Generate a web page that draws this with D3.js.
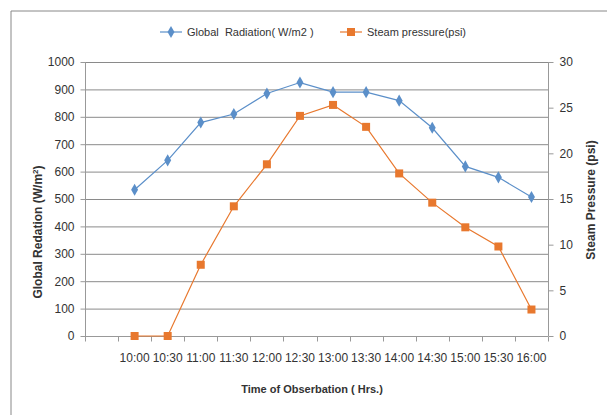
<!DOCTYPE html>
<html><head><meta charset="utf-8">
<script src="https://cdn.jsdelivr.net/npm/d3@7"></script>
<style>
body{margin:0;background:#fff;}
text{font-family:"Liberation Sans",Arial,sans-serif;fill:#333;}
</style></head>
<body>
<svg id="c" width="607" height="415"></svg>
<script>
const categories = ["", "10:00","10:30","11:00","11:30","12:00","12:30","13:00","13:30","14:00","14:30","15:00","15:30","16:00"];
const radiation = [null, 534, 641, 779, 810, 885, 925, 890, 890, 859, 760, 619, 579, 507];
const steam = [null, 0, 0, 7.8, 14.2, 18.8, 24.1, 25.3, 22.9, 17.8, 14.6, 11.9, 9.8, 2.9];
const leftTicks = [0,100,200,300,400,500,600,700,800,900,1000];
const rightTicks = [0,5,10,15,20,25,30];
const seriesNames = ["Global  Radiation( W/m2 )", "Steam pressure(psi)"];

const svg = d3.select("#c");
const L = 85, R = 548, T = 62, B = 336;
const blue = "#5B8FC9", orange = "#E8782E";
const FONT = "Liberation Sans, Arial, sans-serif";

// outer chart border
svg.append("path").attr("d","M11,415 L11,11 L607,11").attr("fill","none").attr("stroke","#888").attr("stroke-width",1);

const x = d3.scaleBand().domain(categories.map((c,i)=>i)).range([L,R]);
const yL = d3.scaleLinear().domain([0,1000]).range([B,T]);
const yR = d3.scaleLinear().domain([0,30]).range([B,T]);

// gridlines
svg.append("g").selectAll("line").data(leftTicks.slice(1)).join("line")
  .attr("x1",L).attr("x2",R).attr("y1",d=>yL(d)+0.5).attr("y2",d=>yL(d)+0.5)
  .attr("stroke","#8a8a8a").attr("stroke-width",1);

// left axis
const gl = svg.append("g").attr("transform",`translate(${L+0.5},0)`)
  .call(d3.axisLeft(yL).tickValues(leftTicks).tickFormat(d3.format("d")).tickSize(5).tickPadding(6));
gl.select(".domain").attr("stroke","#999").attr("d",`M0,${T}V${B}`);
gl.selectAll(".tick line").attr("stroke","#999");
gl.selectAll(".tick text").attr("font-size","12px").attr("fill","#333").attr("font-family",FONT);

// right axis
const gr = svg.append("g").attr("transform",`translate(${R+0.5},0)`)
  .call(d3.axisRight(yR).tickValues(rightTicks).tickFormat(d3.format("d")).tickSize(5).tickPadding(6));
gr.select(".domain").attr("stroke","#999").attr("d",`M0,${T}V${B}`);
gr.selectAll(".tick line").attr("stroke","#999");
gr.selectAll(".tick text").attr("font-size","12px").attr("fill","#333").attr("font-family",FONT);

// bottom axis
const gb = svg.append("g").attr("transform",`translate(0,${B+0.5})`)
  .call(d3.axisBottom(x).tickFormat(i=>categories[i]).tickSize(0).tickPadding(17));
gb.select(".domain").attr("stroke","#999").attr("d",`M${L},0H${R}`);
gb.selectAll(".tick text").attr("font-size","12px").attr("fill","#333").attr("font-family",FONT);
// tick marks between categories
gb.append("g").selectAll("line").data(d3.range(categories.length+1)).join("line")
  .attr("x1",i=>Math.round(L+i*x.step())+0.5).attr("x2",i=>Math.round(L+i*x.step())+0.5)
  .attr("y1",0).attr("y2",5).attr("stroke","#999");

const cx = i => x(i) + x.bandwidth()/2;

// radiation series
const line1 = d3.line().defined(d=>d!=null).x((d,i)=>cx(i)).y(d=>yL(d));
svg.append("path").datum(radiation).attr("d",line1).attr("fill","none").attr("stroke",blue).attr("stroke-width",1.2);
const diamond = d3.symbol().type(d3.symbolDiamond).size(42);
svg.append("g").selectAll("path").data(radiation.map((v,i)=>({v,i})).filter(d=>d.v!=null)).join("path")
  .attr("d",diamond).attr("transform",d=>`translate(${cx(d.i)},${yL(d.v)})`).attr("fill",blue);

// steam series
const line2 = d3.line().defined(d=>d!=null).x((d,i)=>cx(i)).y(d=>yR(d));
svg.append("path").datum(steam).attr("d",line2).attr("fill","none").attr("stroke",orange).attr("stroke-width",1.2);
svg.append("g").selectAll("rect").data(steam.map((v,i)=>({v,i})).filter(d=>d.v!=null)).join("rect")
  .attr("x",d=>cx(d.i)-4).attr("y",d=>yR(d.v)-4).attr("width",8).attr("height",8).attr("fill",orange);

// legend
const lg = svg.append("g");
lg.append("line").attr("x1",160).attr("x2",182).attr("y1",32).attr("y2",32).attr("stroke",blue).attr("stroke-width",1.2);
lg.append("path").attr("d",diamond).attr("transform","translate(171,32)").attr("fill",blue);
lg.append("text").attr("x",187).attr("y",36).attr("font-size","11px").attr("xml:space","preserve").text(seriesNames[0]);
lg.append("line").attr("x1",340).attr("x2",362).attr("y1",32).attr("y2",32).attr("stroke",orange).attr("stroke-width",1.2);
lg.append("rect").attr("x",347).attr("y",28).attr("width",8).attr("height",8).attr("fill",orange);
lg.append("text").attr("x",367).attr("y",36).attr("font-size","11px").text(seriesNames[1]);

// axis titles
svg.append("text").attr("transform","translate(42,232) rotate(-90)").attr("text-anchor","middle")
  .attr("font-size","12px").attr("font-weight","bold").attr("fill","#222")
  .html('Global Redation (W/m<tspan dy="-4" font-size="8px">2</tspan><tspan dy="4">)</tspan>');
svg.append("text").attr("transform","translate(595,200) rotate(-90)").attr("text-anchor","middle")
  .attr("font-size","12px").attr("font-weight","bold").attr("fill","#222").text("Steam Pressure (psi)");
svg.append("text").attr("x",312).attr("y",393).attr("text-anchor","middle")
  .attr("font-size","11px").attr("font-weight","bold").attr("fill","#222").text("Time of Obserbation ( Hrs.)");
</script>
</body></html>
